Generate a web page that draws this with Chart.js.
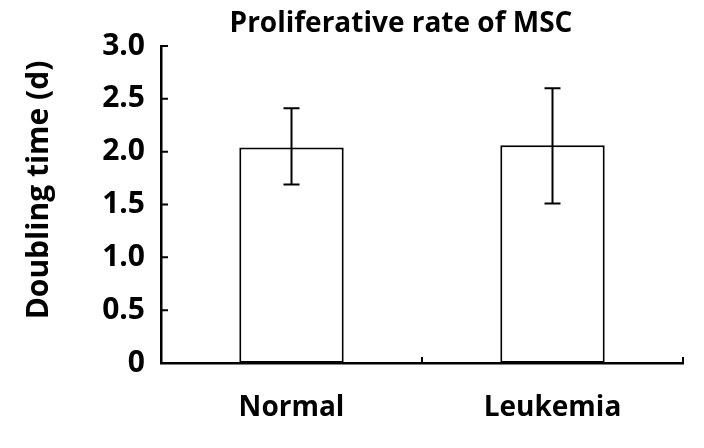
<!DOCTYPE html>
<html>
<head>
<meta charset="utf-8">
<script src="https://cdn.jsdelivr.net/npm/chart.js@4.4.1/dist/chart.umd.min.js"></script>
<style>
    html, body { margin: 0; padding: 0; background: #fff; }
    #wrap { position: relative; width: 704px; height: 448px; }
    #title {
        position: absolute; left: 0; top: 0; width: 802px;
        text-align: center; font-family: "Open Sans", sans-serif;
        font-weight: 700; font-size: 28px; line-height: 42px; color: #000;
    }
    #ytitle {
        position: absolute; left: -113px; top: 175px; width: 300px;
        height: 30px; line-height: 30px; text-align: center;
        transform: rotate(-90deg); transform-origin: 150px 15px;
        font-family: "Open Sans", sans-serif; font-weight: 700;
        font-size: 30px; color: #000; white-space: nowrap;
    }
</style>
</head>
<body>
<div id="wrap">
    <canvas id="chart" width="704" height="448"></canvas>
    <div id="title">Proliferative rate of MSC</div>
    <div id="ytitle">Doubling time (d)</div>
</div>
<script>
// Doubling time of MSC
const categories = ['Normal', 'Leukemia'];
const meanValues = [2.04, 2.06];
const errorUpper = [2.41, 2.60];
const errorLower = [1.69, 1.51];
const yTicks = [0, 0.5, 1.0, 1.5, 2.0, 2.5, 3.0];

const FONT = '"Open Sans", sans-serif';

// Error bars drawn from the y scale
const errorBarPlugin = {
    id: 'errorBars',
    afterDatasetsDraw(chart) {
        const ctx = chart.ctx;
        const y = chart.scales.y;
        const meta = chart.getDatasetMeta(0);
        ctx.save();
        ctx.strokeStyle = '#000';
        ctx.lineWidth = 2;
        meta.data.forEach((bar, i) => {
            const top = y.getPixelForValue(errorUpper[i]);
            const bottom = y.getPixelForValue(errorLower[i]);
            ctx.beginPath();
            ctx.moveTo(bar.x, top);
            ctx.lineTo(bar.x, bottom);
            ctx.moveTo(bar.x - 8, top);
            ctx.lineTo(bar.x + 8, top);
            ctx.moveTo(bar.x - 8, bottom);
            ctx.lineTo(bar.x + 8, bottom);
            ctx.stroke();
        });
        ctx.restore();
    }
};

// Inward tick marks on both axes
const innerTicksPlugin = {
    id: 'innerTicks',
    afterDraw(chart) {
        const ctx = chart.ctx;
        const x = chart.scales.x;
        const y = chart.scales.y;
        const area = chart.chartArea;
        ctx.save();
        ctx.strokeStyle = '#000';
        ctx.lineWidth = 2;
        ctx.beginPath();
        yTicks.forEach(v => {
            const py = y.getPixelForValue(v);
            ctx.moveTo(area.left, py);
            ctx.lineTo(area.left + 7, py);
        });
        const mid = (x.getPixelForValue(0) + x.getPixelForValue(1)) / 2;
        [mid, area.right].forEach(px => {
            ctx.moveTo(px, area.bottom);
            ctx.lineTo(px, area.bottom - 6);
        });
        ctx.stroke();
        ctx.restore();
    }
};

new Chart(document.getElementById('chart'), {
    type: 'bar',
    data: {
        labels: categories,
        datasets: [{
            data: meanValues,
            backgroundColor: '#fff',
            borderColor: '#000',
            borderWidth: 2,
            borderSkipped: false,
            barPercentage: 0.4,
            categoryPercentage: 1
        }]
    },
    options: {
        responsive: false,
        animation: false,
        events: [],
        layout: { padding: { top: 46, right: 21, left: 0, bottom: 0 } },
        plugins: {
            legend: { display: false },
            tooltip: { enabled: false }
        },
        scales: {
            x: {
                grid: { display: false },
                border: { display: true, color: '#000', width: 2.5 },
                ticks: {
                    color: '#000',
                    padding: 20,
                    font: { family: FONT, size: 28, weight: 'bold' }
                },
                afterFit(scale) { scale.height = 85; }
            },
            y: {
                min: 0,
                max: 3,
                grid: { display: false, drawTicks: false },
                border: { display: true, color: '#000', width: 2.5 },
                afterBuildTicks(scale) {
                    scale.ticks = yTicks.map(v => ({ value: v }));
                },
                ticks: {
                    color: '#000',
                    padding: 16,
                    font: { family: FONT, size: 30, weight: 'bold' },
                    callback: v => v === 0 ? '0' : v.toFixed(1)
                },
                afterFit(scale) { scale.width = 161; }
            }
        }
    },
    plugins: [errorBarPlugin, innerTicksPlugin]
});
</script>
</body>
</html>
